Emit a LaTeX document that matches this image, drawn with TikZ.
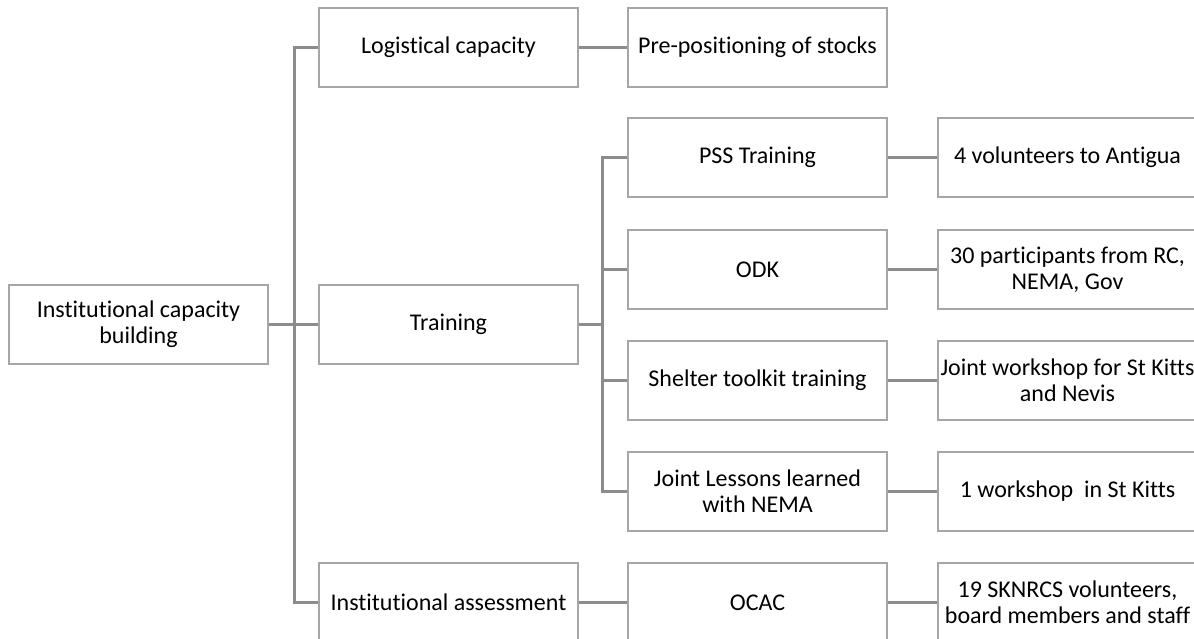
\documentclass[tikz,border=0pt]{standalone}
\usepackage{fontspec}
\setmainfont{Carlito}[Ligatures=NoCommon]
\definecolor{boxgray}{HTML}{A6A6A6}
\definecolor{linegray}{HTML}{8C8C8C}
\begin{document}
\begin{tikzpicture}[x=1pt,y=-1pt,
  box/.style={draw=boxgray, line width=2.6pt, fill=white, minimum width=259pt, minimum height=79pt,
    inner sep=2pt, align=center, font=\fontsize{24}{26}\selectfont, text=black},
  conn/.style={draw=linegray, line width=2.6pt}]
\useasboundingbox (0,0) rectangle (1194,638);
\coordinate (t1) at (294.5,324.5);
\coordinate (t2) at (602.5,324.5);
% nodes
\node[box] (root) at (138.5,324.5) {Institutional capacity\\building};
\node[box] (log)  at (448.5,47.5) {Logistical capacity};
\node[box] (train) at (448.5,324.5) {Training};
\node[box] (inst) at (448.5,602.5) {\makebox[200pt]{Institutional assessment}};
\node[box] (pre)  at (757.5,47.5) {\makebox[200pt]{Pre-positioning of stocks}};
\node[box] (pss)  at (757.5,157.5) {PSS Training};
\node[box] (odk)  at (757.5,269.5) {ODK};
\node[box] (shel) at (757.5,380.5) {\makebox[200pt]{Shelter toolkit training}};
\node[box] (jl)   at (757.5,491.5) {Joint Lessons learned\\with NEMA};
\node[box] (ocac) at (757.5,602.5) {OCAC};
\node[box] (vol)  at (1067.5,157.5) {\makebox[200pt]{4 volunteers to Antigua}};
\node[box] (part) at (1067.5,269.5) {\makebox[200pt]{30 participants from RC,}\\NEMA, Gov};
\node[box] (jw)   at (1067.5,380.5) {\makebox[200pt]{Joint workshop for St Kitts}\\and Nevis};
\node[box] (ws)   at (1067.5,491.5) {1 workshop\ \ in St Kitts};
\node[box] (sk)   at (1067.5,602.5) {19 SKNRCS volunteers,\\\makebox[200pt]{board members and staff}};
% connectors
\draw[conn] (root.east) -- (train.west);
\draw[conn] (log.west) -| (t1) |- (inst.west);
\draw[conn] (log.east) -- (pre.west);
\draw[conn] (train.east) -- (t2);
\draw[conn] (pss.west) -| (t2) |- (jl.west);
\draw[conn] (t2) |- (odk.west);
\draw[conn] (t2) |- (shel.west);
\draw[conn] (inst.east) -- (ocac.west);
\draw[conn] (pss.east) -- (vol.west);
\draw[conn] (odk.east) -- (part.west);
\draw[conn] (shel.east) -- (jw.west);
\draw[conn] (jl.east) -- (ws.west);
\draw[conn] (ocac.east) -- (sk.west);
\end{tikzpicture}
\end{document}
